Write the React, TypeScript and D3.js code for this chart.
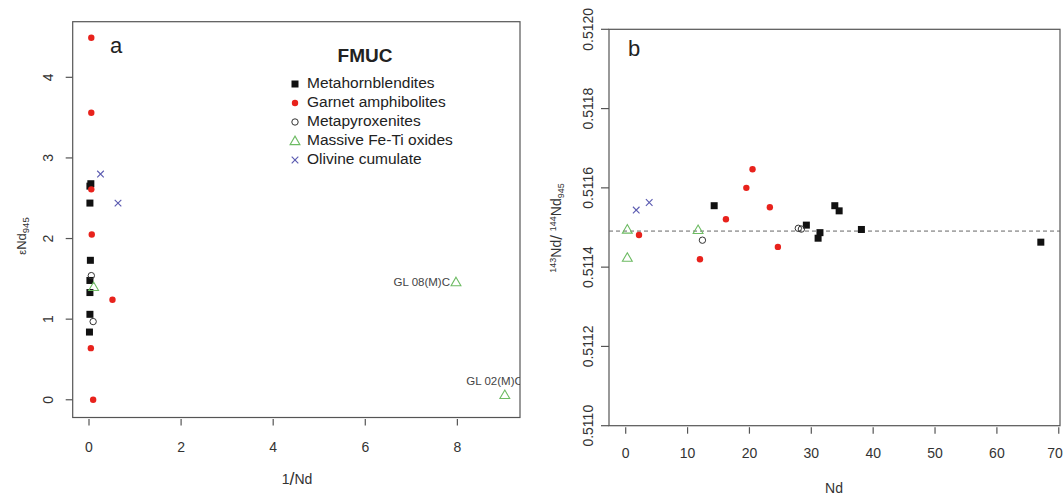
import React from "react";
import * as d3 from "d3";

// ---------- Panel a data: 1/Nd vs eNd945 ----------
const aMetahornblendites: [number, number][] = [
  [0.04, 2.68], [0.02, 2.65], [0.02, 2.44], [0.03, 1.73], [0.02, 1.48], [0.02, 1.33], [0.02, 1.06], [0.01, 0.84],
];
const aGarnetAmph: [number, number][] = [
  [0.05, 4.49], [0.05, 3.56], [0.05, 2.61], [0.06, 2.05], [0.51, 1.24], [0.04, 0.64], [0.09, 0.0],
];
const aMetapyroxenites: [number, number][] = [
  [0.05, 1.54], [0.09, 0.97],
];
const aFeTiOxides: [number, number][] = [
  [0.1, 1.4], [7.97, 1.46], [9.03, 0.06],
];
const aOlivine: [number, number][] = [
  [0.25, 2.8], [0.63, 2.44],
];
const aLabels: { x: number; y: number; text: string; pos: string }[] = [
  { x: 7.97, y: 1.46, text: "GL 08(M)C", pos: "left" },
  { x: 9.03, y: 0.06, text: "GL 02(M)C", pos: "above" },
];
const aXTicks = [0, 2, 4, 6, 8];
const aYTicks = [0, 1, 2, 3, 4];

// ---------- Panel b data: Nd vs 143Nd/144Nd945 ----------
const bMetahornblendites: [number, number][] = [
  [14.3, 0.511555], [29.2, 0.511506], [31.4, 0.511487], [31.1, 0.511473], [33.8, 0.511555], [34.5, 0.511542], [38.1, 0.511495], [67.1, 0.511463],
];
const bGarnetAmph: [number, number][] = [
  [2.15, 0.511481], [16.2, 0.511521], [12.0, 0.51142], [19.5, 0.5116], [20.5, 0.511647], [23.3, 0.511551], [24.6, 0.511451],
];
const bMetapyroxenites: [number, number][] = [
  [12.4, 0.511468], [27.9, 0.511498], [28.4, 0.511496],
];
const bFeTiOxides: [number, number][] = [
  [0.26, 0.511495], [0.26, 0.511424], [11.7, 0.511494],
];
const bOlivine: [number, number][] = [
  [1.7, 0.511544], [3.8, 0.511563],
];
const bReference = 0.511491;
const bXTicks = [0, 10, 20, 30, 40, 50, 60, 70];
const bYTicks = [0.511, 0.5112, 0.5114, 0.5116, 0.5118, 0.512];

const legendItems = [
  "Metahornblendites",
  "Garnet amphibolites",
  "Metapyroxenites",
  "Massive Fe-Ti oxides",
  "Olivine cumulate",
];

const RED = "#e8221c";
const GREEN = "#6dbb63";
const BLUE = "#5a5ab0";
const FONT = "'Liberation Sans', Arial, sans-serif";
const TICKC = "#333";
const BOXC = "#555";
const TICKFS = 14;

function Marker({ kind, x, y }: { kind: number; x: number; y: number }) {
  if (kind === 0) return <rect x={x - 3.5} y={y - 3.5} width={7} height={7} fill="#111" />;
  if (kind === 1) return <circle cx={x} cy={y} r={3.2} fill={RED} />;
  if (kind === 2) return <circle cx={x} cy={y} r={3.2} fill="none" stroke="#333" strokeWidth={1} />;
  if (kind === 3) {
    const p = d3.symbol().type(d3.symbolTriangle).size(42)();
    return <path d={p || ""} transform={`translate(${x},${y + 0.8})`} fill="none" stroke={GREEN} strokeWidth={1.1} />;
  }
  return (
    <g stroke={BLUE} strokeWidth={1.1}>
      <line x1={x - 3.3} y1={y - 3.3} x2={x + 3.3} y2={y + 3.3} />
      <line x1={x - 3.3} y1={y + 3.3} x2={x + 3.3} y2={y - 3.3} />
    </g>
  );
}

export default function App() {
  // Panel a scales
  const xA = d3.scaleLinear().domain([-0.354, 9.36]).range([72.7, 520]);
  const yA = d3.scaleLinear().domain([-0.22, 4.69]).range([417.5, 21.7]);
  // Panel b scales
  const xB = d3.scaleLinear().domain([-2.7, 70.2]).range([609, 1060]);
  const yB = d3.scaleLinear().domain([0.511, 0.512]).range([425.7, 29.3]);

  const aSeries = [aMetahornblendites, aGarnetAmph, aMetapyroxenites, aFeTiOxides, aOlivine];
  const bSeries = [bMetahornblendites, bGarnetAmph, bMetapyroxenites, bFeTiOxides, bOlivine];

  const [ax0, ax1] = xA.range();
  const [ay0, ay1] = yA.range();
  const [bx0, bx1] = xB.range();
  const [by0, by1] = yB.range();

  return (
    <svg width={1064} height={497} style={{ position: "absolute", left: 0, top: 0, background: "#fff" }} fontFamily={FONT}>
      <defs>
        <clipPath id="clipA">
          <rect x={ax0} y={ay1} width={ax1 - ax0} height={ay0 - ay1} />
        </clipPath>
      </defs>
      {/* ---------------- Panel a ---------------- */}
      <rect x={ax0} y={ay1} width={ax1 - ax0} height={ay0 - ay1} fill="none" stroke={BOXC} strokeWidth={1.2} />
      {aXTicks.map((t) => (
        <g key={"ax" + t}>
          <line x1={xA(t)} x2={xA(t)} y1={ay0 + 1.5} y2={ay0 + 8} stroke={BOXC} strokeWidth={1.2} />
          <text x={xA(t)} y={ay0 + 34} textAnchor="middle" fontSize={TICKFS} fill={TICKC}>{t}</text>
        </g>
      ))}
      {aYTicks.map((t) => (
        <g key={"ay" + t}>
          <line x1={ax0 - 7} x2={ax0} y1={yA(t)} y2={yA(t)} stroke={BOXC} strokeWidth={1.2} />
          <text transform={`translate(${ax0 - 20},${yA(t)}) rotate(-90)`} textAnchor="middle" fontSize={TICKFS} fill={TICKC}>{t}</text>
        </g>
      ))}
      <text x={297} y={484} textAnchor="middle" fontSize={14} fill={TICKC}>
        1<tspan fontSize={18} dy={1}>/</tspan><tspan dy={-1}>Nd</tspan>
      </text>
      <text transform={`translate(26,236) rotate(-90)`} textAnchor="middle" fontSize={13} fill={TICKC}>
        <tspan fontSize={11}>ε</tspan>Nd<tspan fontSize={9.5} dy={3}>945</tspan>
      </text>
      <text x={110} y={53} fontSize={22} fill="#222">a</text>
      <g clipPath="url(#clipA)">
        {aSeries.map((s, k) =>
          s.map(([u, v], i) => <Marker key={`a${k}-${i}`} kind={k} x={xA(u)} y={yA(v)} />)
        )}
        {aLabels.map((l) =>
          l.pos === "left" ? (
            <text key={l.text} x={xA(l.x) - 6} y={yA(l.y) + 4} textAnchor="end" fontSize={11.5} fill="#444">{l.text}</text>
          ) : (
            <text key={l.text} x={xA(l.x) + 18} y={yA(l.y) - 10} textAnchor="end" fontSize={11.5} fill="#444">{l.text}</text>
          )
        )}
      </g>
      {/* legend */}
      <text x={365} y={62} textAnchor="middle" fontSize={19} fontWeight="bold" fill="#222">FMUC</text>
      {legendItems.map((name, i) => (
        <g key={name}>
          <Marker kind={i} x={295} y={84 + i * 19} />
          <text x={307} y={87.5 + i * 19} fontSize={15.5} fill="#222">{name}</text>
        </g>
      ))}

      {/* ---------------- Panel b ---------------- */}
      <rect x={bx0} y={by1} width={bx1 - bx0} height={by0 - by1} fill="none" stroke={BOXC} strokeWidth={1.2} />
      {bXTicks.map((t) => (
        <g key={"bx" + t}>
          <line x1={xB(t)} x2={xB(t)} y1={by0 + 1.5} y2={by0 + 8} stroke={BOXC} strokeWidth={1.2} />
          <text x={Math.min(xB(t), 1055)} y={by0 + 32} textAnchor="middle" fontSize={TICKFS} fill={TICKC}>{t}</text>
        </g>
      ))}
      {bYTicks.map((t) => (
        <g key={"by" + t}>
          <line x1={bx0 - 8} x2={bx0} y1={yB(t)} y2={yB(t)} stroke={BOXC} strokeWidth={1.2} />
          <text transform={`translate(${bx0 - 16},${yB(t)}) rotate(-90)`} textAnchor="middle" fontSize={TICKFS} fill={TICKC}>{d3.format(".4f")(t)}</text>
        </g>
      ))}
      <text x={834} y={493} textAnchor="middle" fontSize={14} fill={TICKC}>Nd</text>
      <text transform={`translate(561,228) rotate(-90)`} textAnchor="middle" fontSize={14} fill={TICKC}>
        <tspan fontSize={9} dy={-5}>143</tspan><tspan dy={5}>Nd</tspan><tspan fontSize={17} dy={1}>/</tspan><tspan dy={-1}> </tspan><tspan fontSize={9} dy={-5}>144</tspan><tspan dy={5}>Nd</tspan><tspan fontSize={9} dy={3}>945</tspan>
      </text>
      <text x={628} y={56} fontSize={22} fill="#222">b</text>
      <line x1={bx0} x2={bx1} y1={yB(bReference)} y2={yB(bReference)} stroke="#666" strokeWidth={1} strokeDasharray="4,3" />
      {bSeries.map((s, k) =>
        s.map(([u, v], i) => <Marker key={`b${k}-${i}`} kind={k} x={xB(u)} y={yB(v)} />)
      )}
    </svg>
  );
}
